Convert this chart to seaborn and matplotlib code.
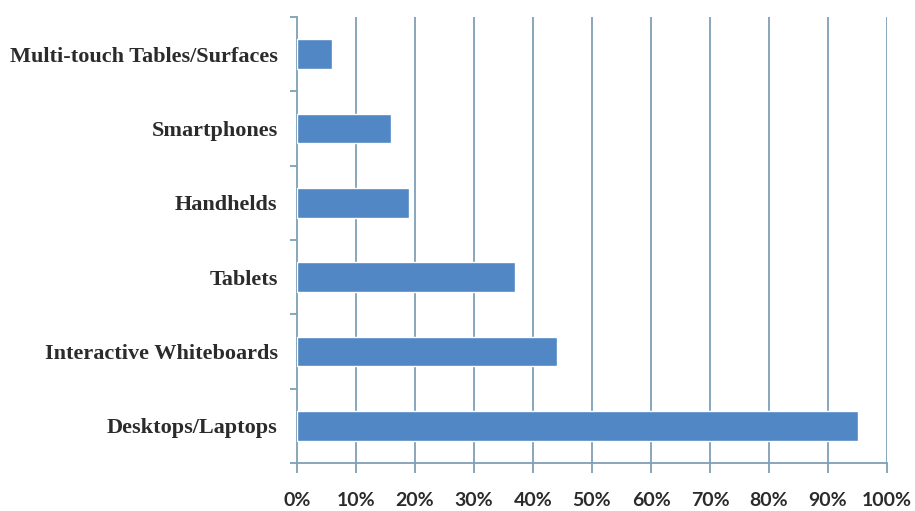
import matplotlib
matplotlib.use("Agg")
import matplotlib.pyplot as plt
from matplotlib.ticker import FixedLocator, PercentFormatter
import seaborn as sns
import pandas as pd

# Devices used, share of respondents (%)
devices = [
    "Multi-touch Tables/Surfaces",
    "Smartphones",
    "Handhelds",
    "Tablets",
    "Interactive Whiteboards",
    "Desktops/Laptops",
]
shares = [6, 16, 19, 37, 44, 95]
x_ticks = list(range(0, 101, 10))

df = pd.DataFrame({"device": devices, "share": shares})

sns.set_theme(style="white")
plt.rcParams["font.family"] = ["DejaVu Sans"]

bar_color = "#5087C4"
axis_color = "#7FA0B5"
text_color = "#2b2b2b"

fig = plt.figure(figsize=(9.15, 5.11), dpi=100)
ax = fig.add_axes([0.3246, 0.0939, 0.6448, 0.8728])

sns.barplot(data=df, x="share", y="device", order=devices, orient="h",
            color=bar_color, saturation=1, width=0.4, ax=ax, zorder=3)

ax.set_xlim(0, 100)
ax.set_ylim(len(devices) - 0.5, -0.5)
ax.set_xlabel("")
ax.set_ylabel("")

# vertical gridlines at every 10%
ax.xaxis.set_major_locator(FixedLocator(x_ticks))
ax.xaxis.set_major_formatter(PercentFormatter(decimals=0))
for v in x_ticks[1:]:
    ax.axvline(v, color=axis_color, lw=1.3, zorder=1)

for side in ("top", "right"):
    ax.spines[side].set_visible(False)
for side in ("left", "bottom"):
    ax.spines[side].set_color(axis_color)
    ax.spines[side].set_linewidth(1.3)

ax.tick_params(axis="x", which="major", direction="out", length=7, width=1.3,
               color=axis_color, pad=14, bottom=True)
for lbl in ax.get_xticklabels():
    lbl.set_fontfamily("Lato")
    lbl.set_fontweight("bold")
    lbl.set_fontsize(14)
    lbl.set_color(text_color)

# category labels at bar centres, tick marks at category boundaries
ax.tick_params(axis="y", which="major", length=0, pad=14)
ax.yaxis.set_minor_locator(FixedLocator([i - 0.5 for i in range(len(devices) + 1)]))
ax.tick_params(axis="y", which="minor", direction="out", length=5, width=1.3,
               color=axis_color, left=True)
for lbl in ax.get_yticklabels():
    lbl.set_fontfamily("Liberation Serif")
    lbl.set_fontweight("bold")
    lbl.set_fontsize(16)
    lbl.set_color(text_color)

fig.savefig("out.png", dpi=100, facecolor="white")
